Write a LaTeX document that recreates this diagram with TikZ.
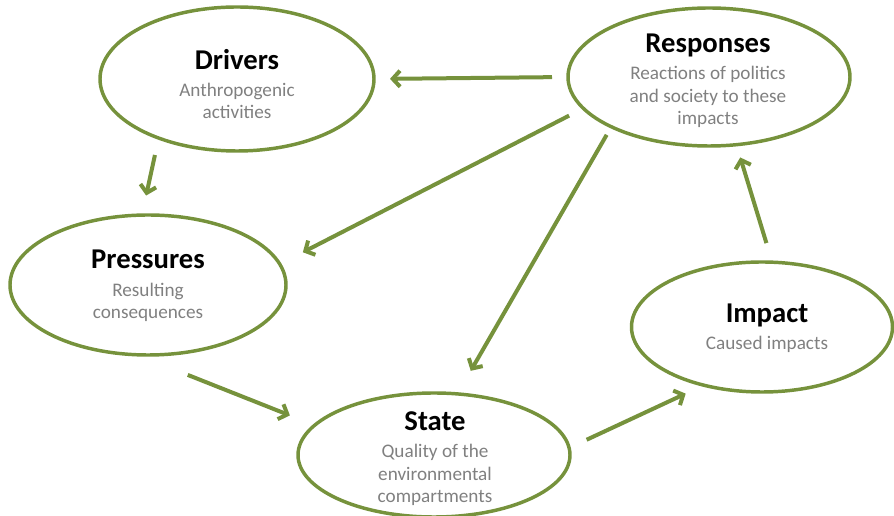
\documentclass[tikz,border=0pt]{standalone}
\usepackage{fontspec}
\setmainfont{Carlito}
\usetikzlibrary{shapes.geometric,arrows.meta}
\definecolor{dpsigreen}{RGB}{118,146,60}
\definecolor{dpsigray}{RGB}{128,128,128}
\newcommand{\dpsititle}[1]{{\fontsize{21.5}{24}\selectfont\bfseries\color{black}#1}}

\begin{document}
\begin{tikzpicture}[x=0.75pt,y=0.75pt,yscale=-1,xscale=1,
  blob/.style={draw=dpsigreen,line width=2.6pt,ellipse,inner sep=0pt,outer sep=0pt},
  txt/.style={align=center,text=dpsigray,font=\fontsize{14.4}{16.9}\selectfont},
  flow/.style={draw=dpsigreen,line width=3pt,-{Straight Barb[length=5.5pt,width=12pt]}}]
\useasboundingbox (0,0) rectangle (894,516);

% Ellipse Node
\node[blob,minimum width=205.5pt,minimum height=108pt] (drv) at (237,79) {};
% Ellipse Node
\node[blob,minimum width=211.5pt,minimum height=103.5pt] (resp) at (709,77) {};
% Ellipse Node
\node[blob,minimum width=207pt,minimum height=105pt] (press) at (148,285) {};
% Ellipse Node
\node[blob,minimum width=204pt,minimum height=93pt] (state) at (434,455) {};
% Ellipse Node
\node[blob,minimum width=195.75pt,minimum height=97.5pt] (impact) at (762,327) {};

% Text Node
\node[txt] (drvtxt) at (237,84) {\dpsititle{Drivers}\\[3.5pt]Anthropogenic\\activities};
% Text Node
\node[txt] (resptxt) at (708,81) {\dpsititle{Responses}\\[3.5pt]Reactions of politics\\and society to these\\impacts};
% Text Node
\node[txt] (presstxt) at (148,286) {\dpsititle{Pressures}\\[3.5pt]Resulting\\consequences};
% Text Node
\node[txt] (statetxt) at (435,459) {\dpsititle{State}\\[3.5pt]Quality of the\\environmental\\compartments};
% Text Node
\node[txt] (impacttxt) at (767,328) {\dpsititle{Impact}\\[3.5pt]Caused impacts};

% Arrows
\draw[flow,shorten <=12pt,shorten >=12pt] (resp.west) -- (drv.east);
\draw[flow,shorten <=13pt,shorten >=15pt] (drv.217) -- (press.95);
\draw[flow,shorten <=12pt,shorten >=19.5pt] (resp.194) -- (press.9);
\draw[flow,shorten <=7pt,shorten >=20pt] (resp.207) -- (state.69);
\draw[flow,shorten <=41pt,shorten >=20pt] (press.261) -- (state.166);
\draw[flow,shorten <=14.5pt,shorten >=15pt] (state.3) -- (impact.225);
\draw[flow,shorten <=15pt,shorten >=10pt] (impact.81) -- (resp.-68);

\end{tikzpicture}
\end{document}
